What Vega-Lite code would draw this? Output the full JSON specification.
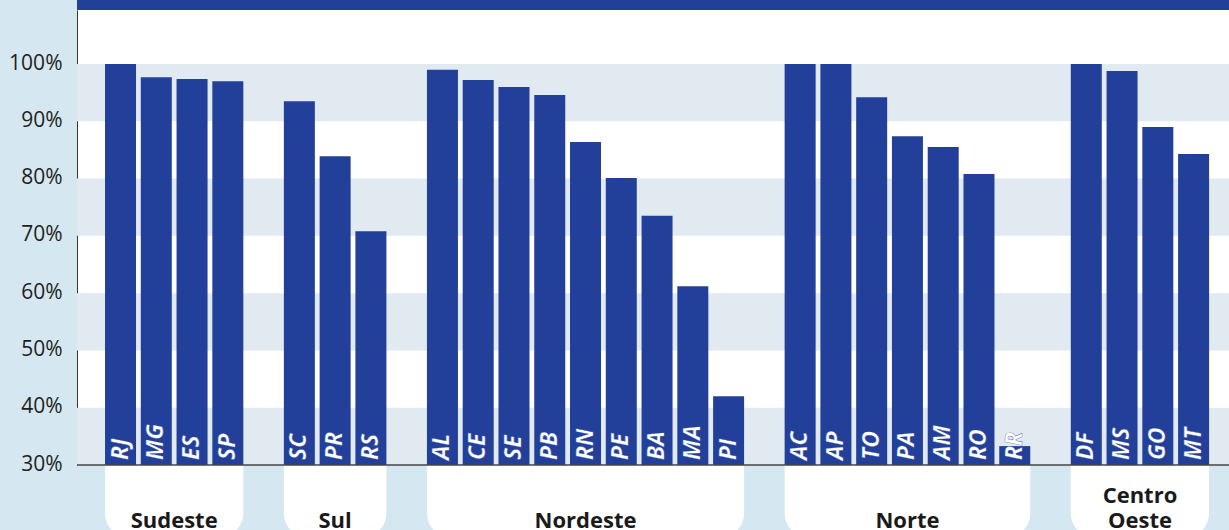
{
  "$schema": "https://vega.github.io/schema/vega-lite/v6.json",
  "width": 1152,
  "height": 455,
  "autosize": {"type": "none"},
  "padding": {"left": 77, "top": 10, "right": 0, "bottom": 65},
  "background": "#D5E7F1",
  "config": {
    "view": {"fill": "#FFFFFF", "stroke": null},
    "axisY": {
      "title": null,
      "grid": false,
      "domain": true,
      "domainColor": "#333333",
      "domainWidth": 1,
      "ticks": true,
      "tickSize": 77,
      "tickWidth": 10,
      "labelPadding": -62,
      "labelFont": "Open Sans",
      "labelFontSize": 21,
      "labelColor": "#231F20",
      "labelOverlap": false,
      "labelBound": false,
      "labelFlush": false,
      "labelOffset": -1,
      "zindex": 1
    }
  },
  "datasets": {
    "ufs": [
      {"uf": "RJ", "regiao": "Sudeste", "valor": 100},
      {"uf": "MG", "regiao": "Sudeste", "valor": 97.7},
      {"uf": "ES", "regiao": "Sudeste", "valor": 97.4},
      {"uf": "SP", "regiao": "Sudeste", "valor": 97.0},
      {"uf": "SC", "regiao": "Sul", "valor": 93.5},
      {"uf": "PR", "regiao": "Sul", "valor": 83.9},
      {"uf": "RS", "regiao": "Sul", "valor": 70.8},
      {"uf": "AL", "regiao": "Nordeste", "valor": 99.0},
      {"uf": "CE", "regiao": "Nordeste", "valor": 97.2},
      {"uf": "SE", "regiao": "Nordeste", "valor": 96.0},
      {"uf": "PB", "regiao": "Nordeste", "valor": 94.6},
      {"uf": "RN", "regiao": "Nordeste", "valor": 86.4},
      {"uf": "PE", "regiao": "Nordeste", "valor": 80.1},
      {"uf": "BA", "regiao": "Nordeste", "valor": 73.5},
      {"uf": "MA", "regiao": "Nordeste", "valor": 61.2},
      {"uf": "PI", "regiao": "Nordeste", "valor": 42.0},
      {"uf": "AC", "regiao": "Norte", "valor": 100},
      {"uf": "AP", "regiao": "Norte", "valor": 100},
      {"uf": "TO", "regiao": "Norte", "valor": 94.2},
      {"uf": "PA", "regiao": "Norte", "valor": 87.4},
      {"uf": "AM", "regiao": "Norte", "valor": 85.5},
      {"uf": "RO", "regiao": "Norte", "valor": 80.8},
      {"uf": "RR", "regiao": "Norte", "valor": 33.3},
      {"uf": "DF", "regiao": "Centro Oeste", "valor": 100},
      {"uf": "MS", "regiao": "Centro Oeste", "valor": 98.8},
      {"uf": "GO", "regiao": "Centro Oeste", "valor": 89.0},
      {"uf": "MT", "regiao": "Centro Oeste", "valor": 84.3}
    ],
    "faixas": [
      {"de": 30, "ate": 40},
      {"de": 50, "ate": 60},
      {"de": 70, "ate": 80},
      {"de": 90, "ate": 100}
    ],
    "regioes": [
      {"nome": "Sudeste", "primeiro": "RJ", "ultimo": "SP", "centro": "MG", "par": true, "linhas": 1},
      {"nome": "Sul", "primeiro": "SC", "ultimo": "RS", "centro": "PR", "par": false, "linhas": 1},
      {"nome": "Nordeste", "primeiro": "AL", "ultimo": "PI", "centro": "RN", "par": false, "linhas": 1},
      {"nome": "Norte", "primeiro": "AC", "ultimo": "RR", "centro": "PA", "par": false, "linhas": 1},
      {"nome": "Centro Oeste", "primeiro": "DF", "ultimo": "MT", "centro": "MS", "par": true, "linhas": 2}
    ]
  },
  "layer": [
    {
      "data": {"name": "faixas"},
      "mark": {"type": "rect", "color": "#E1E9F1"},
      "encoding": {
        "y": {
          "field": "de", "type": "quantitative",
          "scale": {"domain": [30, 109.43], "nice": false, "zero": false},
          "axis": {"values": [30, 40, 50, 60, 70, 80, 90, 100, 110.3], "labelExpr": "datum.value > 105 ? '' : datum.value + '%'", "tickColor": {"condition": {"test": "datum.value > 105", "value": "#22409A"}, "value": "transparent"}}
        },
        "y2": {"field": "ate"}
      }
    },
    {
      "data": {"values": [{}]},
      "mark": {"type": "rect", "color": "#22409A"},
      "encoding": {
        "y": {"datum": 111.3, "type": "quantitative", "scale": {"domain": [30, 109.43], "nice": false, "zero": false},
          "axis": {"values": [30, 40, 50, 60, 70, 80, 90, 100, 110.3], "labelExpr": "datum.value > 105 ? '' : datum.value + '%'", "tickColor": {"condition": {"test": "datum.value > 105", "value": "#22409A"}, "value": "transparent"}}},
        "y2": {"datum": 109.43}
      }
    },
    {
      "data": {"name": "regioes"},
      "mark": {"type": "rect", "color": "#FFFFFF", "cornerRadiusBottomLeft": 25, "cornerRadiusBottomRight": 25},
      "encoding": {
        "x": {
          "field": "primeiro", "type": "nominal", "bandPosition": 0,
          "scale": {"domain": ["RJ","MG","ES","SP","g1","SC","PR","RS","g2","AL","CE","SE","PB","RN","PE","BA","MA","PI","g3","AC","AP","TO","PA","AM","RO","RR","g4","DF","MS","GO","MT"], "paddingInner": 0.1334, "paddingOuter": 0.67, "align": 0.5846},
          "axis": null
        },
        "x2": {"field": "ultimo", "bandPosition": 1},
        "y": {"datum": 30, "type": "quantitative", "scale": {"domain": [30, 109.43], "nice": false, "zero": false},
          "axis": {"values": [30, 40, 50, 60, 70, 80, 90, 100, 110.3], "labelExpr": "datum.value > 105 ? '' : datum.value + '%'", "tickColor": {"condition": {"test": "datum.value > 105", "value": "#22409A"}, "value": "transparent"}}},
        "y2": {"datum": 17.26}
      }
    },
    {
      "data": {"name": "ufs"},
      "mark": {"type": "bar", "color": "#22409A"},
      "encoding": {
        "x": {
          "field": "uf", "type": "nominal",
          "scale": {"domain": ["RJ","MG","ES","SP","g1","SC","PR","RS","g2","AL","CE","SE","PB","RN","PE","BA","MA","PI","g3","AC","AP","TO","PA","AM","RO","RR","g4","DF","MS","GO","MT"], "paddingInner": 0.1334, "paddingOuter": 0.67, "align": 0.5846},
          "axis": null
        },
        "y": {"field": "valor", "type": "quantitative", "scale": {"domain": [30, 109.43], "nice": false, "zero": false},
          "axis": {"values": [30, 40, 50, 60, 70, 80, 90, 100, 110.3], "labelExpr": "datum.value > 105 ? '' : datum.value + '%'", "tickColor": {"condition": {"test": "datum.value > 105", "value": "#22409A"}, "value": "transparent"}}},
        "y2": {"datum": 30}
      }
    },
    {
      "data": {"values": [{}]},
      "mark": {"type": "rule", "color": "#444444", "strokeWidth": 1.5},
      "encoding": {
        "y": {"datum": 30, "type": "quantitative", "scale": {"domain": [30, 109.43], "nice": false, "zero": false},
          "axis": {"values": [30, 40, 50, 60, 70, 80, 90, 100, 110.3], "labelExpr": "datum.value > 105 ? '' : datum.value + '%'", "tickColor": {"condition": {"test": "datum.value > 105", "value": "#22409A"}, "value": "transparent"}}}
      }
    },
    {
      "data": {"name": "ufs"},
      "mark": {"type": "text", "angle": 270, "align": "left", "baseline": "middle", "dx": 5, "font": "Open Sans", "fontSize": 23, "fontWeight": "bold", "fontStyle": "italic", "fill": "#FFFFFF", "stroke": "#22409A", "strokeWidth": 0.35},
      "encoding": {
        "x": {
          "field": "uf", "type": "nominal",
          "scale": {"domain": ["RJ","MG","ES","SP","g1","SC","PR","RS","g2","AL","CE","SE","PB","RN","PE","BA","MA","PI","g3","AC","AP","TO","PA","AM","RO","RR","g4","DF","MS","GO","MT"], "paddingInner": 0.1334, "paddingOuter": 0.67, "align": 0.5846},
          "axis": null
        },
        "y": {"datum": 30, "type": "quantitative", "scale": {"domain": [30, 109.43], "nice": false, "zero": false},
          "axis": {"values": [30, 40, 50, 60, 70, 80, 90, 100, 110.3], "labelExpr": "datum.value > 105 ? '' : datum.value + '%'", "tickColor": {"condition": {"test": "datum.value > 105", "value": "#22409A"}, "value": "transparent"}}},
        "text": {"field": "uf"}
      }
    },
    {
      "data": {"name": "regioes"},
      "transform": [{"filter": "!datum.par"}],
      "mark": {"type": "text", "align": "center", "baseline": "alphabetic", "font": "Open Sans", "fontSize": 22, "fontWeight": "bold", "color": "#1A1A1A"},
      "encoding": {
        "x": {
          "field": "centro", "type": "nominal", "bandPosition": 0.5,
          "scale": {"domain": ["RJ","MG","ES","SP","g1","SC","PR","RS","g2","AL","CE","SE","PB","RN","PE","BA","MA","PI","g3","AC","AP","TO","PA","AM","RO","RR","g4","DF","MS","GO","MT"], "paddingInner": 0.1334, "paddingOuter": 0.67, "align": 0.5846},
          "axis": null
        },
        "y": {"datum": 19.0, "type": "quantitative", "scale": {"domain": [30, 109.43], "nice": false, "zero": false},
          "axis": {"values": [30, 40, 50, 60, 70, 80, 90, 100, 110.3], "labelExpr": "datum.value > 105 ? '' : datum.value + '%'", "tickColor": {"condition": {"test": "datum.value > 105", "value": "#22409A"}, "value": "transparent"}}},
        "text": {"field": "nome"}
      }
    },
    {
      "data": {"name": "regioes"},
      "transform": [{"filter": "datum.par && datum.linhas == 1"}],
      "mark": {"type": "text", "align": "center", "baseline": "alphabetic", "font": "Open Sans", "fontSize": 22, "fontWeight": "bold", "color": "#1A1A1A"},
      "encoding": {
        "x": {
          "field": "centro", "type": "nominal", "bandPosition": 1.077,
          "scale": {"domain": ["RJ","MG","ES","SP","g1","SC","PR","RS","g2","AL","CE","SE","PB","RN","PE","BA","MA","PI","g3","AC","AP","TO","PA","AM","RO","RR","g4","DF","MS","GO","MT"], "paddingInner": 0.1334, "paddingOuter": 0.67, "align": 0.5846},
          "axis": null
        },
        "y": {"datum": 19.0, "type": "quantitative", "scale": {"domain": [30, 109.43], "nice": false, "zero": false},
          "axis": {"values": [30, 40, 50, 60, 70, 80, 90, 100, 110.3], "labelExpr": "datum.value > 105 ? '' : datum.value + '%'", "tickColor": {"condition": {"test": "datum.value > 105", "value": "#22409A"}, "value": "transparent"}}},
        "text": {"field": "nome"}
      }
    },
    {
      "data": {"name": "regioes"},
      "transform": [{"filter": "datum.linhas == 2"}],
      "mark": {"type": "text", "align": "center", "baseline": "alphabetic", "lineBreak": " ", "lineHeight": 25, "dy": -25, "font": "Open Sans", "fontSize": 22, "fontWeight": "bold", "color": "#1A1A1A"},
      "encoding": {
        "x": {
          "field": "centro", "type": "nominal", "bandPosition": 1.077,
          "scale": {"domain": ["RJ","MG","ES","SP","g1","SC","PR","RS","g2","AL","CE","SE","PB","RN","PE","BA","MA","PI","g3","AC","AP","TO","PA","AM","RO","RR","g4","DF","MS","GO","MT"], "paddingInner": 0.1334, "paddingOuter": 0.67, "align": 0.5846},
          "axis": null
        },
        "y": {"datum": 19.0, "type": "quantitative", "scale": {"domain": [30, 109.43], "nice": false, "zero": false},
          "axis": {"values": [30, 40, 50, 60, 70, 80, 90, 100, 110.3], "labelExpr": "datum.value > 105 ? '' : datum.value + '%'", "tickColor": {"condition": {"test": "datum.value > 105", "value": "#22409A"}, "value": "transparent"}}},
        "text": {"field": "nome"}
      }
    }
  ]
}
